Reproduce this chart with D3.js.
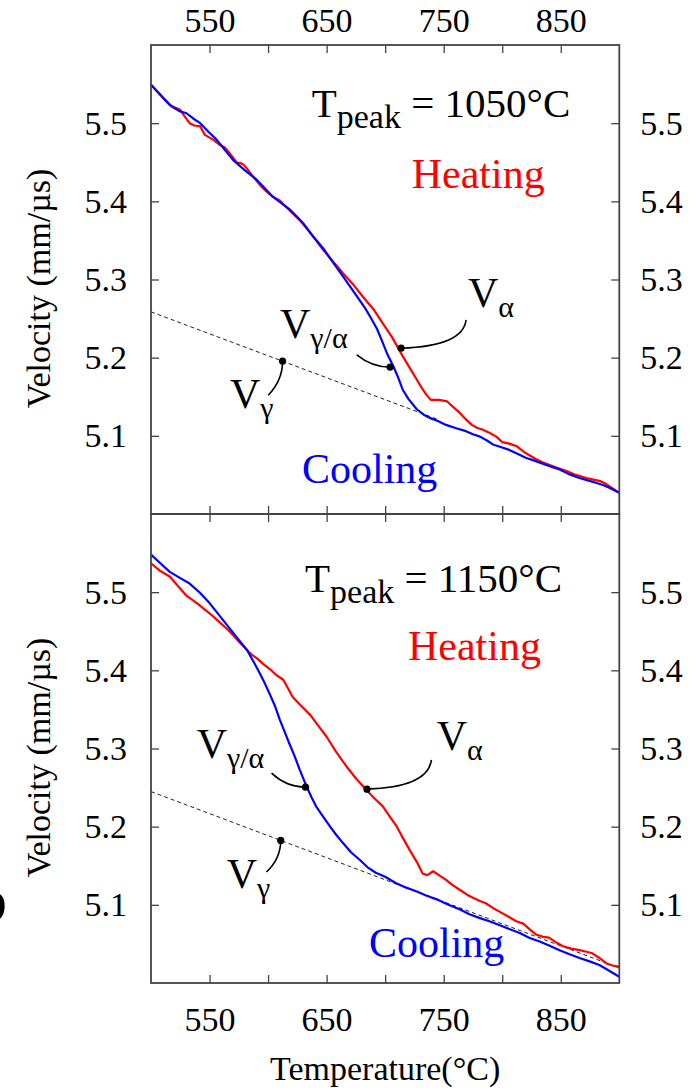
<!DOCTYPE html>
<html>
<head>
<meta charset="utf-8">
<script src="https://cdn.jsdelivr.net/npm/d3@7"></script>
<style>
  html, body { margin: 0; padding: 0; background: #fff; }
  svg { display: block; }
  text { font-family: "Liberation Serif", "Times New Roman", serif; }
</style>
</head>
<body>
<svg id="chart" width="694" height="1088"></svg>
<script>
// ---- data: ultrasonic velocity (mm/µs) vs temperature (°C) ----
const xTicks = [550, 600, 650, 700, 750, 800, 850];
const xTickLabels = [550, 650, 750, 850];
const yTicks = [5.1, 5.2, 5.3, 5.4, 5.5];

// T_peak = 1050 °C
const heating1050 = [
  [500,5.549],[508,5.536],[516,5.523],[519,5.521],[525,5.517],[529,5.508],[533,5.500],[537,5.497],[542,5.496],[546,5.485],
  [553,5.479],[559,5.472],[563,5.469],[567,5.462],[573,5.450],[576,5.449],[579,5.447],[583,5.440],[587,5.432],[593,5.421],
  [599,5.412],[604,5.406],[610,5.401],[618,5.389],[627,5.376],[637,5.358],[647,5.338],[656,5.322],[664,5.308],[672,5.295],
  [681,5.278],[690,5.262],[698,5.244],[706,5.226],[715,5.202],[721,5.187],[727,5.172],[731,5.162],[735,5.153],[739,5.146],
  [746,5.146],[753,5.144],[758,5.137],[764,5.129],[769,5.121],[774,5.114],[779,5.110],[783,5.108],[789,5.104],[795,5.099],
  [800,5.092],[806,5.090],[812,5.087],[820,5.078],[829,5.070],[835,5.066],[840,5.063],[847,5.059],[855,5.055],[863,5.050],
  [872,5.046],[878,5.044],[884,5.042],[888,5.039],[892,5.035],[896,5.031],[900,5.027]
];
const cooling1050 = [
  [500,5.549],[510,5.533],[518,5.521],[525,5.515],[530,5.513],[536,5.506],[542,5.500],[549,5.489],[556,5.479],[563,5.466],
  [570,5.453],[580,5.440],[590,5.428],[597,5.417],[604,5.406],[611,5.398],[619,5.389],[625,5.380],[630,5.372],[638,5.356],
  [647,5.340],[655,5.323],[664,5.304],[671,5.289],[678,5.274],[683,5.263],[687,5.253],[693,5.237],[698,5.219],[702,5.204],
  [707,5.189],[711,5.175],[715,5.159],[720,5.147],[727,5.134],[733,5.127],[738,5.123],[745,5.119],[752,5.114],[760,5.110],
  [769,5.106],[775,5.102],[781,5.099],[787,5.094],[792,5.089],[800,5.085],[806,5.082],[813,5.077],[820,5.072],[828,5.068],
  [837,5.063],[843,5.060],[849,5.057],[857,5.051],[866,5.046],[873,5.043],[880,5.040],[886,5.037],[891,5.034],[900,5.027]
];
const gammaLine1050 = [[500,5.2586],[745,5.1210]];
const marks1050 = { gamma: [612.4,5.1955], gammaAlpha: [704.2,5.1879], alpha: [713.6,5.2121] };

// T_peak = 1150 °C
const heating1150 = [
  [500,5.537],[508,5.527],[516,5.520],[523,5.508],[530,5.496],[540,5.485],[550,5.473],[559,5.461],[567,5.450],[575,5.437],
  [582,5.426],[586,5.420],[590,5.416],[596,5.408],[602,5.401],[607,5.394],[613,5.388],[617,5.377],[621,5.366],[628,5.355],
  [636,5.343],[643,5.329],[650,5.315],[658,5.296],[667,5.277],[675,5.262],[684,5.247],[691,5.236],[698,5.226],[704,5.213],
  [710,5.200],[715,5.186],[721,5.170],[727,5.155],[732,5.140],[736,5.138],[741,5.143],[745,5.139],[752,5.132],[758,5.125],
  [764,5.119],[770,5.113],[775,5.109],[781,5.105],[786,5.102],[792,5.096],[798,5.091],[805,5.085],[812,5.079],[818,5.076],
  [824,5.068],[829,5.062],[835,5.059],[840,5.058],[846,5.052],[852,5.047],[859,5.044],[866,5.042],[872,5.040],[877,5.038],
  [883,5.032],[889,5.025],[895,5.022],[900,5.021]
];
const cooling1150 = [
  [500,5.548],[508,5.537],[516,5.526],[525,5.518],[533,5.511],[542,5.499],[550,5.486],[558,5.471],[567,5.454],[575,5.439],
  [582,5.426],[588,5.410],[593,5.396],[597,5.384],[601,5.371],[606,5.354],[610,5.337],[614,5.322],[618,5.307],[623,5.289],
  [627,5.273],[633,5.251],[637,5.238],[641,5.226],[647,5.213],[653,5.200],[658,5.190],[664,5.179],[671,5.167],[678,5.158],
  [685,5.148],[692,5.141],[700,5.136],[709,5.128],[718,5.122],[727,5.117],[735,5.112],[744,5.107],[754,5.100],[764,5.094],
  [772,5.088],[781,5.083],[789,5.079],[798,5.074],[806,5.069],[815,5.064],[823,5.058],[832,5.053],[840,5.048],[849,5.042],
  [857,5.037],[866,5.032],[874,5.028],[883,5.023],[891,5.016],[900,5.008]
];
const gammaLine1150 = [[500,5.2449],[900,5.0193]];
const marks1150 = { gamma: [610.8,5.1824], gammaAlpha: [632.0,5.2505], alpha: [684.5,5.2480] };

// ---- layout ----
const svg = d3.select("#chart");
const left = 151, right = 619.3;
const panelH = 469;
const panelTops = [45, 514];
const tickFont = 34, bigFont = 41, subFont = 30;
const frameColor = "#444";

const x = d3.scaleLinear().domain([500, 900]).range([left, right]);

const panels = [
  {
    top: panelTops[0], heating: heating1050, cooling: cooling1050, gamma: gammaLine1050, marks: marks1050,
    peak: "1050°C", showTop: true, showBottom: false,
    title: [311.7, 72], heatLabel: [411.7, 143.3], coolLabel: [302, 438],
    vGammaAlpha: [280, 293.3], vAlpha: [468, 261.7], vGamma: [230, 363.3],
    lead: { gamma: [[-14.4, 34], [0, 19]], gammaAlpha: [[-33.3, -12.3], [-18, 0]], alpha: [[65, -28.3], [62, -2]] }
  },
  {
    top: panelTops[1], heating: heating1150, cooling: cooling1150, gamma: gammaLine1150, marks: marks1150,
    peak: "1150°C", showTop: false, showBottom: true,
    title: [305, 78], heatLabel: [408, 146], coolLabel: [369, 443],
    vGammaAlpha: [196.7, 244.3], vAlpha: [436.7, 236], vGamma: [226.7, 374.3],
    lead: { gamma: [[-14.3, 31.6], [0, 18]], gammaAlpha: [[-34, -14], [-19, 0]], alpha: [[64.4, -29.3], [61, -2]] }
  }
];

function styleAxis(g) {
  g.select(".domain").remove();
  g.selectAll(".tick line").attr("stroke", frameColor).attr("stroke-width", 1.3);
  g.selectAll(".tick text").attr("font-size", tickFont).attr("fill", "#000")
    .style("font-family", '"Liberation Serif", "Times New Roman", serif');
}

function labelV(g, pos, top, sub) {
  const t = g.append("text").attr("x", pos[0]).attr("y", top + pos[1])
    .attr("font-size", 42).attr("fill", "#000");
  t.append("tspan").text("V");
  t.append("tspan").attr("font-size", subFont).attr("dy", 10).text(sub);
}

panels.forEach(p => {
  const y = d3.scaleLinear().domain([5.0, 5.6]).range([p.top + panelH, p.top]);
  const g = svg.append("g");

  // gamma-phase reference (dashed)
  const line = d3.line().x(d => x(d[0])).y(d => y(d[1]));
  g.append("path").datum(p.gamma).attr("d", line)
    .attr("fill", "none").attr("stroke", "#222").attr("stroke-width", 1)
    .attr("stroke-dasharray", "4,3");

  g.append("path").datum(p.heating).attr("d", line)
    .attr("fill", "none").attr("stroke", "#ff0000").attr("stroke-width", 2.2)
    .attr("stroke-linejoin", "round");
  g.append("path").datum(p.cooling).attr("d", line)
    .attr("fill", "none").attr("stroke", "#0000ff").attr("stroke-width", 2.2)
    .attr("stroke-linejoin", "round");

  // axes, ticks pointing inward
  g.append("g").attr("transform", `translate(${left},0)`)
    .call(d3.axisLeft(y).tickValues(yTicks).tickSizeInner(-8).tickSizeOuter(0).tickPadding(24).tickFormat(d3.format(".1f")))
    .call(styleAxis);
  g.append("g").attr("transform", `translate(${right},0)`)
    .call(d3.axisRight(y).tickValues(yTicks).tickSizeInner(-8).tickSizeOuter(0).tickPadding(21).tickFormat(d3.format(".1f")))
    .call(styleAxis);
  g.append("g").attr("transform", `translate(0,${p.top})`)
    .call(d3.axisTop(x).tickValues(xTicks).tickSizeInner(-8).tickSizeOuter(0).tickPadding(13)
      .tickFormat(d => (p.showTop && xTickLabels.includes(d)) ? d : ""))
    .call(styleAxis);
  g.append("g").attr("transform", `translate(0,${p.top + panelH})`)
    .call(d3.axisBottom(x).tickValues(xTicks).tickSizeInner(-8).tickSizeOuter(0).tickPadding(24)
      .tickFormat(d => (p.showBottom && xTickLabels.includes(d)) ? d : ""))
    .call(styleAxis);

  g.append("rect").attr("x", left).attr("y", p.top).attr("width", right - left).attr("height", panelH)
    .attr("fill", "none").attr("stroke", frameColor).attr("stroke-width", 1.8);

  // y-axis title
  g.append("text")
    .attr("transform", `translate(50,${p.top + panelH / 2 + 9}) rotate(-90)`)
    .attr("text-anchor", "middle").attr("font-size", tickFont).attr("fill", "#000")
    .text("Velocity (mm/µs)");

  // T_peak title
  const tt = g.append("text").attr("x", p.title[0]).attr("y", p.top + p.title[1])
    .attr("font-size", bigFont).attr("fill", "#000");
  tt.append("tspan").text("T");
  tt.append("tspan").attr("font-size", 34).attr("dy", 11).text("peak");
  tt.append("tspan").attr("dy", -11).text(" = " + p.peak);

  g.append("text").attr("x", p.heatLabel[0]).attr("y", p.top + p.heatLabel[1])
    .attr("font-size", 42).attr("fill", "#ff0000").text("Heating");
  g.append("text").attr("x", p.coolLabel[0]).attr("y", p.top + p.coolLabel[1])
    .attr("font-size", 42).attr("fill", "#0000ff").text("Cooling");

  // markers with curved leaders
  const keys = ["gamma", "gammaAlpha", "alpha"];
  keys.forEach(k => {
    const m = p.marks[k];
    const cx = x(m[0]), cy = y(m[1]);
    const [s, c] = p.lead[k];
    g.append("path")
      .attr("d", `M${cx + s[0]},${cy + s[1]} Q${cx + c[0]},${cy + c[1]} ${cx},${cy}`)
      .attr("fill", "none").attr("stroke", "#000").attr("stroke-width", 1.6);
    g.append("circle").attr("cx", cx).attr("cy", cy).attr("r", 3.6).attr("fill", "#000");
  });

  labelV(g, p.vGammaAlpha, p.top, "γ/α");
  labelV(g, p.vAlpha, p.top, "α");
  labelV(g, p.vGamma, p.top, "γ");
});

// x-axis title
svg.append("text").attr("x", x(700)).attr("y", 1080)
  .attr("text-anchor", "middle").attr("font-size", tickFont).attr("fill", "#000")
  .text("Temperature(°C)");

// panel letter at the left margin
svg.append("text").attr("x", -24).attr("y", 921)
  .attr("font-size", 62).attr("fill", "#000").text("b");
</script>
</body>
</html>
